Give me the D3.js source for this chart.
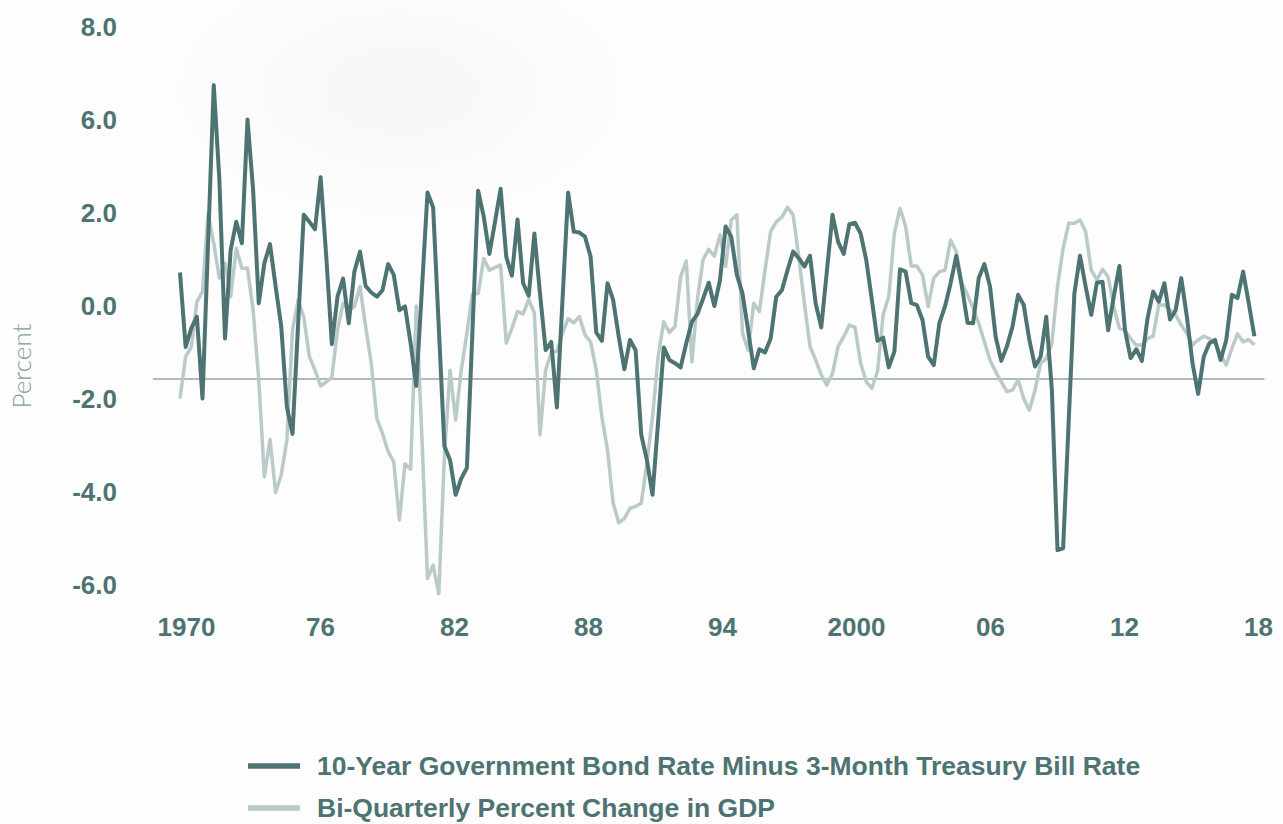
<!DOCTYPE html>
<html>
<head>
<meta charset="utf-8">
<script src="https://cdn.jsdelivr.net/npm/d3@7"></script>
<style>
  html, body { margin: 0; padding: 0; background: #fdfdfd; }
  #chart { width: 1283px; height: 824px; position: relative; overflow: hidden; }
  .tick text { font-family: "Liberation Sans", Arial, sans-serif; font-weight: bold; fill: #4d7372; }
</style>
</head>
<body>
<div id="chart"></div>
<script>
// quarterly series, first value is 1970 Q1
const startYear = 1970;

// 10-year bond rate minus 3-month bill rate
const spread = [
  0.72, -0.88, -0.48, -0.23, -1.99, 1.38, 4.75, 2.71, -0.70, 1.20,
  1.81, 1.35, 4.01, 2.49, 0.06, 0.92, 1.33, 0.42, -0.44, -2.17,
  -2.75, -0.39, 1.96, 1.81, 1.65, 2.77, 1.06, -0.82, 0.20, 0.59,
  -0.37, 0.74, 1.17, 0.43, 0.29, 0.20, 0.34, 0.90, 0.67, -0.09,
  -0.01, -0.80, -1.72, 0.34, 2.44, 2.12, -0.44, -3.01, -3.31, -4.06,
  -3.71, -3.48, -0.52, 2.48, 1.92, 1.12, 1.81, 2.52, 1.06, 0.65,
  1.86, 0.49, 0.22, 1.56, 0.27, -0.95, -0.77, -2.18, 0.13, 2.44,
  1.60, 1.58, 1.49, 1.06, -0.57, -0.75, 0.49, 0.13, -0.66, -1.36,
  -0.73, -0.95, -2.77, -3.31, -4.06, -2.49, -0.89, -1.16, -1.23, -1.32,
  -0.80, -0.34, -0.17, 0.16, 0.50, 0.00, 0.56, 1.71, 1.49, 0.67,
  0.27, -0.52, -1.34, -0.93, -1.00, -0.70, 0.20, 0.34, 0.77, 1.17,
  1.03, 0.85, 1.08, 0.06, -0.46, 0.75, 1.96, 1.38, 1.12, 1.76,
  1.79, 1.56, 0.99, 0.13, -0.75, -0.68, -1.32, -0.98, 0.79, 0.74,
  0.06, 0.02, -0.30, -1.09, -1.27, -0.37, -0.01, 0.49, 1.08, 0.42,
  -0.36, -0.37, 0.60, 0.90, 0.42, -0.66, -1.18, -0.87, -0.44, 0.24,
  0.02, -0.73, -1.30, -1.09, -0.23, -1.81, -5.25, -5.21, -2.45, 0.27,
  1.08, 0.42, -0.19, 0.50, 0.52, -0.52, 0.20, 0.86, -0.52, -1.12,
  -0.93, -1.18, -0.27, 0.31, 0.09, 0.49, -0.29, -0.09, 0.60, -0.23,
  -1.23, -1.89, -1.09, -0.80, -0.73, -1.16, -0.73, 0.24, 0.17, 0.74,
  0.06, -0.65
];

// bi-quarterly percent change in GDP
const gdpChange = [
  -1.99, -1.09, -0.88, 0.09, 0.31, 1.99, 1.35, 0.60, 0.92, 0.20,
  1.24, 0.81, 0.81, -0.09, -1.59, -3.67, -2.87, -4.01, -3.63, -2.88,
  -0.52, 0.13, -0.23, -1.09, -1.38, -1.72, -1.63, -1.53, -0.52, 0.06,
  -0.09, -0.01, 0.42, -0.44, -1.23, -2.42, -2.74, -3.13, -3.35, -4.60,
  -3.39, -3.51, 0.00, -2.81, -5.86, -5.57, -6.19, -3.24, -1.38, -2.45,
  -1.38, -0.59, 0.27, 0.27, 1.02, 0.77, 0.83, 0.88, -0.80, -0.48,
  -0.12, -0.17, 0.14, -0.15, -2.77, -1.38, -1.00, -0.97, -0.59, -0.27,
  -0.36, -0.23, -0.62, -0.77, -1.38, -2.38, -3.10, -4.24, -4.66, -4.57,
  -4.35, -4.31, -4.24, -3.38, -2.38, -1.09, -0.34, -0.57, -0.44, 0.63,
  0.97, -1.20, 0.16, 1.00, 1.22, 1.07, 1.53, 0.85, 1.85, 1.96,
  -0.59, -0.95, 0.06, -0.12, 0.77, 1.60, 1.81, 1.91, 2.12, 1.96,
  1.06, 0.06, -0.87, -1.16, -1.48, -1.70, -1.45, -0.87, -0.66, -0.41,
  -0.46, -1.23, -1.63, -1.77, -1.41, -0.19, 0.20, 1.56, 2.10, 1.71,
  0.86, 0.86, 0.67, -0.01, 0.60, 0.74, 0.77, 1.42, 1.17, 0.49,
  0.24, -0.05, -0.37, -0.77, -1.16, -1.41, -1.63, -1.84, -1.81, -1.59,
  -1.99, -2.24, -1.81, -1.23, -1.13, -0.80, 0.42, 1.24, 1.78, 1.78,
  1.85, 1.60, 0.77, 0.56, 0.79, 0.63, -0.01, -0.48, -0.52, -0.70,
  -0.84, -0.84, -0.70, -0.65, 0.02, 0.02, -0.09, -0.19, -0.41, -0.59,
  -0.84, -0.73, -0.65, -0.70, -0.80, -1.05, -1.27, -0.91, -0.60, -0.77,
  -0.72, -0.84
];

// axis ticks (the labels are as printed on the original chart)
const yTickValues = [6, 4, 2, 0, -2, -4, -6];
const yTickLabels = ['8.0', '6.0', '2.0', '0.0', '-2.0', '-4.0', '-6.0'];
const xTickYears = [1970, 1976, 1982, 1988, 1994, 2000, 2006, 2012, 2018];
const xTickLabels = ['1970', '76', '82', '88', '94', '2000', '06', '12', '18'];

// horizontal reference rule
const refValue = -1.57;
const refSpan = [1968.8, 2018.2];

const seriesNames = [
  '10-Year Government Bond Rate Minus 3-Month Treasury Bill Rate',
  'Bi-Quarterly Percent Change in GDP'
];

(function () {

  const width = 1283;
  const height = 824;
  const darkColor = '#4d7372';
  const lightColor = '#b9cac9';

  const svg = d3.select('#chart')
    .append('svg')
    .attr('width', width)
    .attr('height', height);

  // faint background shading
  const defs = svg.append('defs');
  const glow = defs.append('radialGradient').attr('id', 'glow');
  glow.append('stop').attr('offset', '0%').attr('stop-color', '#efefef').attr('stop-opacity', 0.5);
  glow.append('stop').attr('offset', '100%').attr('stop-color', '#efefef').attr('stop-opacity', 0);

  svg.append('rect').attr('width', width).attr('height', height).attr('fill', '#fdfdfd');
  svg.append('ellipse')
    .attr('cx', 400).attr('cy', 90).attr('rx', 230).attr('ry', 130)
    .attr('fill', 'url(#glow)');

  // scales
  const x = d3.scaleLinear()
    .domain([1970, 2018])
    .range([180, 1260]);

  // tick labels sit on a slightly tighter spacing than the data
  const xLabel = d3.scaleLinear()
    .domain([1970, 2018])
    .range([186, 1258]);

  const y = d3.scaleLinear()
    .domain([-6, 6])
    .range([585, 27]);

  // y axis
  const yAxis = svg.append('g')
    .attr('transform', 'translate(117,0)')
    .call(d3.axisLeft(y)
      .tickValues(yTickValues)
      .tickFormat((d, i) => yTickLabels[i])
      .tickSize(0)
      .tickPadding(0));
  yAxis.select('.domain').remove();
  yAxis.selectAll('text').style('font-size', '26px');

  // x axis
  const xAxis = svg.append('g')
    .attr('transform', 'translate(0,617)')
    .call(d3.axisBottom(xLabel)
      .tickValues(xTickYears)
      .tickFormat((d, i) => xTickLabels[i])
      .tickSize(0)
      .tickPadding(0));
  xAxis.select('.domain').remove();
  xAxis.selectAll('text')
    .style('font-size', '26px')
    .attr('dy', '0.72em');

  // y axis title
  svg.append('text')
    .attr('transform', 'translate(31,366) rotate(-90)')
    .attr('text-anchor', 'middle')
    .style('font-family', 'Lato, "Open Sans", sans-serif')
    .style('font-weight', 300)
    .style('font-size', '26px')
    .style('fill', '#7f9e9c')
    .text('Percent');

  // reference rule
  svg.append('line')
    .attr('x1', x(refSpan[0]))
    .attr('x2', x(refSpan[1]))
    .attr('y1', y(refValue))
    .attr('y2', y(refValue))
    .attr('stroke', '#8fa7a5')
    .attr('stroke-width', 1.5);

  // line generator, one point per quarter
  const line = d3.line()
    .x((d, i) => x(startYear + i / 4))
    .y(d => y(d));

  svg.append('path')
    .datum(gdpChange)
    .attr('d', line)
    .attr('fill', 'none')
    .attr('stroke', lightColor)
    .attr('stroke-width', 3.5)
    .attr('stroke-linejoin', 'round');

  svg.append('path')
    .datum(spread)
    .attr('d', line)
    .attr('fill', 'none')
    .attr('stroke', darkColor)
    .attr('stroke-width', 4)
    .attr('stroke-linejoin', 'round');

  // legend
  const legend = svg.append('g')
    .selectAll('g')
    .data(seriesNames)
    .join('g')
    .attr('transform', (d, i) => `translate(248,${766 + i * 42})`);

  legend.append('line')
    .attr('x1', 0)
    .attr('x2', 52)
    .attr('stroke', (d, i) => i === 0 ? darkColor : lightColor)
    .attr('stroke-width', 5.5);

  legend.append('text')
    .attr('x', 69)
    .attr('y', 9)
    .style('font-family', '"Liberation Sans", Arial, sans-serif')
    .style('font-weight', 'bold')
    .style('font-size', '26.5px')
    .style('fill', darkColor)
    .text(d => d);

})();
</script>
</body>
</html>
